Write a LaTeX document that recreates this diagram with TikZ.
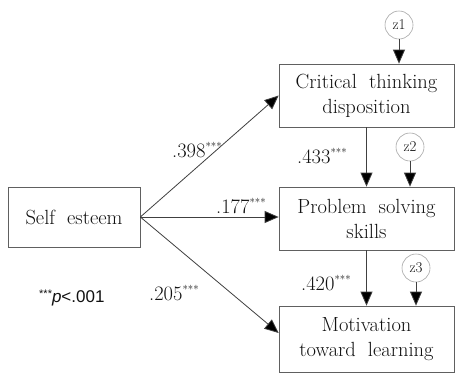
\documentclass[tikz,border=0pt]{standalone}
\usepackage{fontspec}
\usetikzlibrary{arrows.meta}
\newfontfamily\arialfont{Liberation Sans}
\definecolor{linec}{HTML}{404040}
\definecolor{boxc}{HTML}{606060}
\definecolor{txtc}{HTML}{111111}
\newcommand{\mystars}{\raisebox{7pt}{\fontsize{11}{11}\selectfont ***}}
\tikzset{
  varbox/.style={draw=boxc, line width=0.7pt, rectangle, align=center, inner sep=0pt,
    text=txtc, font={\fontsize{20.5}{25}\selectfont\spaceskip=12pt plus 2pt}},
  errc/.style={draw=gray!70, line width=0.6pt, circle, minimum size=28pt, inner sep=0pt,
    text=txtc, font={\fontsize{15}{15}\selectfont}},
  path/.style={draw=linec, line width=0.8pt, -{Triangle[length=14pt,width=12pt,fill=black]}},
  coef/.style={text=txtc, inner sep=0pt, anchor=base west, font={\fontsize{20.5}{20}\selectfont}}
}
\begin{document}
\begin{tikzpicture}[x=1pt,y=-1pt]
\useasboundingbox (0,0) rectangle (455,373);
\fill[white] (0,0) rectangle (455,373);
\node[varbox, minimum width=132pt, minimum height=60pt] (se) at (74,217) {Self esteem};
\node[varbox, minimum width=175pt, minimum height=63pt] (ct) at (366.5,95.5) {Critical thinking\\disposition};
\node[varbox, minimum width=175pt, minimum height=63pt] (ps) at (366.5,218.5) {Problem solving\\skills};
\node[varbox, minimum width=175pt, minimum height=66pt] (mo) at (366.5,339) {Motivation\\toward learning};
\node[errc] (z1) at (399,25) {z1};
\node[errc] (z2) at (410,147) {z2};
\node[errc] (z3) at (416,268) {z3};
\draw[path] (se.east) -- (ct.west);
\draw[path] (se.east) -- (se.east -| ps.west);
\draw[path] (se.east) -- ([yshift=6pt]mo.west);
\draw[path] (ct.south) -- (ps.north);
\draw[path] (ps.south) -- (mo.north);
\draw[path] (z1) -- (z1 |- ct.north);
\draw[path] (z2) -- (z2 |- ps.north);
\draw[path] (z3) -- (z3 |- mo.north);
\node[coef] (c1) at (172,157) {.398\mystars};
\node[coef] (c2) at (297,163) {.433\mystars};
\node[coef] (c3) at (216,213) {.177\mystars};
\node[coef] (c4) at (301,290) {.420\mystars};
\node[coef] (c5) at (149,300) {.205\mystars};
\node[text=txtc, inner sep=0pt, anchor=base west, font={\arialfont\fontsize{17}{17}\selectfont}] (note) at (39,302) {{\fontsize{11}{11}\selectfont\raisebox{5pt}{***}}\textit{p}<.001};
\end{tikzpicture}
\end{document}
